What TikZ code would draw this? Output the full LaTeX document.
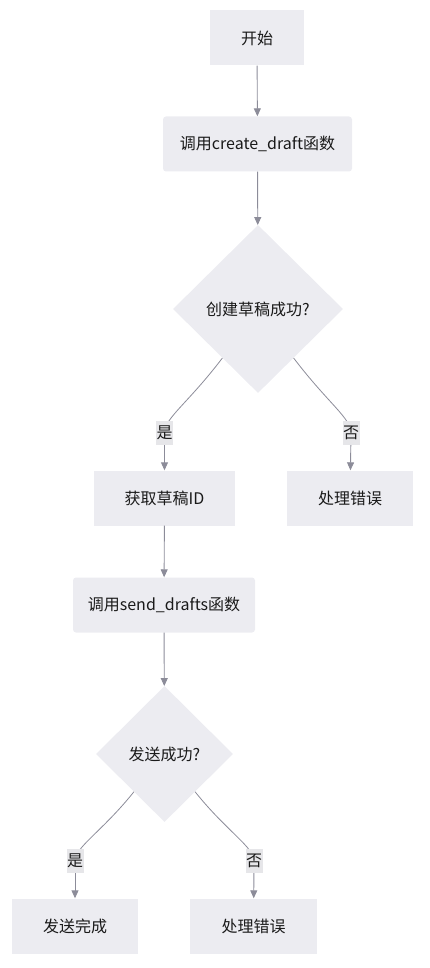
\documentclass[tikz,border=0pt]{standalone}
\usepackage{fontspec}
\setmainfont{Noto Sans CJK SC}
\usepackage{tikz}
\usetikzlibrary{shapes.geometric,arrows.meta}
\definecolor{boxfill}{HTML}{ECECF1}
\definecolor{edgegray}{HTML}{8C8C99}
\definecolor{labelfill}{HTML}{E6E6E9}
\definecolor{txt}{HTML}{1A1A1A}

\tikzset{
  stepbox/.style={rectangle, fill=boxfill, text=txt, minimum height=55pt, inner sep=0pt,
    font=\fontsize{16}{19}\selectfont},
  callbox/.style={stepbox, rounded corners=3pt},
  choice/.style={diamond, aspect=1, fill=boxfill, text=txt, inner sep=0pt,
    font=\fontsize{16}{19}\selectfont},
  edgelabel/.style={rectangle, fill=labelfill, text=txt, inner sep=0pt,
    minimum width=17pt, minimum height=24pt, font=\fontsize{16}{19}\selectfont},
  flow/.style={draw=edgegray, line width=0.9pt, -{Triangle[width=7pt,length=8pt]}},
  curve/.style={draw=edgegray, line width=0.8pt}
}

\begin{document}
\begin{tikzpicture}[x=1pt,y=-1pt]
  \useasboundingbox (0,0) rectangle (430,968);

  % main steps
  \node[stepbox, minimum width=94pt] (start) at (257,38) {开始};
  \node[callbox, minimum width=189pt] (draft) at (257.5,144) {调用create\_draft函数};
  \node[choice, minimum width=170pt, minimum height=168pt] (ok1) at (258,309) {创建草稿成功?};
  \node[stepbox, minimum width=141pt] (getid) at (164.5,498) {获取草稿ID};
  \node[stepbox, minimum width=126pt] (err1) at (350,498) {处理错误};
  \node[callbox, minimum width=182pt] (send) at (164,605) {调用send\_drafts函数};
  \node[choice, minimum width=137pt, minimum height=136pt] (ok2) at (164.5,754) {发送成功?};
  \node[stepbox, minimum width=126pt] (done) at (75,926) {发送完成};
  \node[stepbox, minimum width=127pt] (err2) at (253.5,926) {处理错误};

  % straight links
  \draw[flow] (start) -- (draft);
  \draw[flow] (draft) -- (ok1);
  \draw[flow] (getid) -- (send);
  \draw[flow] (send) -- (ok2);

  % first choice
  \coordinate (yes1c) at (164.5,433);
  \coordinate (no1c) at (351,433);
  \draw[curve] (ok1.-126) .. controls +(-35,46) and +(0,-15) .. (yes1c);
  \draw[curve] (ok1.-54) .. controls +(35,46) and +(0,-15) .. (no1c);
  \node[edgelabel] (yes1) at (yes1c) {是};
  \node[edgelabel] (no1) at (no1c) {否};
  \draw[flow] (yes1) -- (getid);
  \draw[flow] (no1) -- (err1);

  % second choice
  \coordinate (yes2c) at (75,861);
  \coordinate (no2c) at (254,861);
  \draw[curve] (ok2.-129) .. controls +(-32,40) and +(0,-14) .. (yes2c);
  \draw[curve] (ok2.-51) .. controls +(32,40) and +(0,-14) .. (no2c);
  \node[edgelabel] (yes2) at (yes2c) {是};
  \node[edgelabel] (no2) at (no2c) {否};
  \draw[flow] (yes2) -- (done);
  \draw[flow] (no2) -- (err2);
\end{tikzpicture}
\end{document}
